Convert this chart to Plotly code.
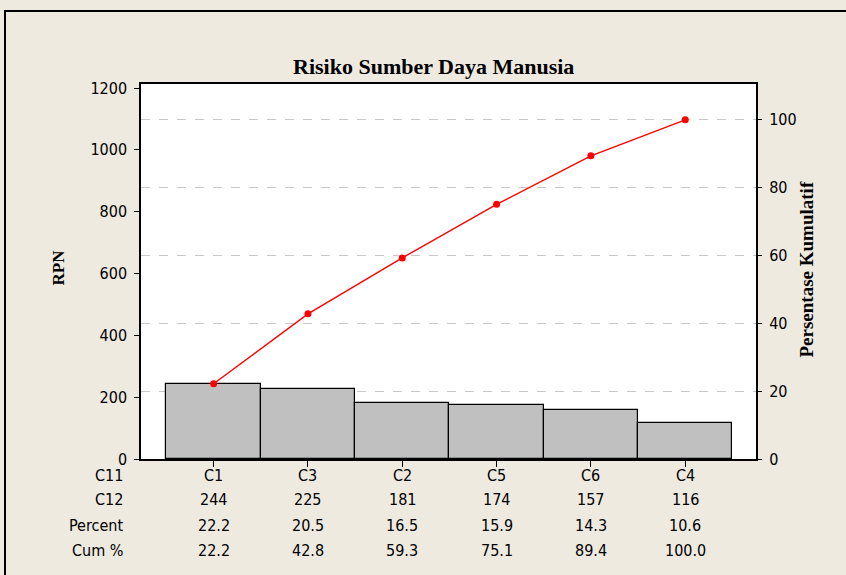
import plotly.graph_objects as go

categories = ["C1", "C3", "C2", "C5", "C6", "C4"]
rpn = [244, 225, 181, 174, 157, 116]
percent = [22.2, 20.5, 16.5, 15.9, 14.3, 10.6]
cum_percent = [22.2, 42.8, 59.3, 75.1, 89.4, 100.0]
left_ticks = [0, 200, 400, 600, 800, 1000, 1200]
right_ticks = [0, 20, 40, 60, 80, 100]
row_labels = ["C11", "C12", "Percent", "Cum %"]

W, H = 846, 575
L, R, T, B = 141, 90, 84, 116
PW, PH = W - L - R, H - T - B

YMAX = 1213
total = sum(rpn)
Y2MAX = YMAX / total * 100

def px_x(px):
    return (px - L) / PW

def px_y(py):
    return (H - B - py) / PH

tick_font = dict(family="DejaVu Sans Condensed, Liberation Sans Narrow, DejaVu Sans", size=16, color="black")
serif_bold = "Liberation Serif, Times New Roman, serif"

fig = go.Figure()
fig.add_trace(go.Bar(
    x=categories, y=rpn, width=1.0,
    marker=dict(color="#C0C0C0", line=dict(color="black", width=1.2)),
    yaxis="y", showlegend=False, hoverinfo="skip",
))
fig.add_trace(go.Scatter(
    x=categories, y=cum_percent, yaxis="y2", mode="lines+markers",
    line=dict(color="#FF0000", width=1.4),
    marker=dict(color="#FF0000", size=7),
    showlegend=False,
))

annotations = []
row_y = [475, 499, 525, 550]
rows = [categories, [str(v) for v in rpn], [f"{v:.1f}" for v in percent], [f"{v:.1f}" for v in cum_percent]]
for lab, yy, vals in zip(row_labels, row_y, rows):
    annotations.append(dict(x=px_x(125), y=px_y(yy), xref="paper", yref="paper", text=lab,
                            showarrow=False, xanchor="right", yanchor="middle", font=tick_font))
    for c, v in zip(categories, vals):
        annotations.append(dict(x=c, y=px_y(yy), xref="x", yref="paper", text=v,
                                showarrow=False, xanchor="center", yanchor="middle", font=tick_font))

annotations.append(dict(x=px_x(433), y=px_y(52), xref="paper", yref="paper",
                        text="<b>Risiko Sumber Daya Manusia</b>", showarrow=False,
                        font=dict(family=serif_bold, size=22, color="black")))
annotations.append(dict(x=px_x(46), y=px_y(268), xref="paper", yref="paper",
                        text="<b>RPN</b>", textangle=-90, showarrow=False,
                        font=dict(family=serif_bold, size=17, color="black")))
annotations.append(dict(x=px_x(818), y=px_y(270), xref="paper", yref="paper",
                        text="<b>Persentase Kumulatif</b>", textangle=-90, showarrow=False,
                        font=dict(family=serif_bold, size=19, color="black")))

fig.update_layout(
    width=W, height=H,
    margin=dict(l=L, r=R, t=T, b=B, pad=0),
    paper_bgcolor="#EEEAE0",
    plot_bgcolor="white",
    bargap=0,
    xaxis=dict(
        range=[-0.77, 5.75], showgrid=False, zeroline=False,
        showline=True, linecolor="black", linewidth=1.5, mirror=True,
        ticks="outside", ticklen=6, tickcolor="black", tickwidth=1,
        showticklabels=False,
    ),
    yaxis=dict(
        range=[0, YMAX], tickvals=left_ticks, showgrid=False, zeroline=False,
        showline=True, linecolor="black", linewidth=1.5, mirror=True,
        ticks="outside", ticklen=5, tickcolor="black", tickwidth=1,
        tickfont=tick_font, ticklabelstandoff=4,
    ),
    yaxis2=dict(
        range=[0, Y2MAX], tickvals=right_ticks, overlaying="y", side="right",
        showgrid=True, gridcolor="#C8C8C8", gridwidth=1, griddash="dash",
        zeroline=False, showline=False,
        ticks="outside", ticklen=5, tickcolor="black", tickwidth=1,
        tickfont=tick_font, ticklabelstandoff=4,
    ),
    annotations=annotations,
    shapes=[dict(type="rect", xref="paper", yref="paper",
                 x0=px_x(5), x1=px_x(900), y0=px_y(620), y1=px_y(11),
                 line=dict(color="black", width=2), fillcolor="rgba(0,0,0,0)", layer="above")],
)

fig.write_html("out.html", config={"displayModeBar": False},
               post_script="document.body.style.margin='0';document.body.style.overflow='hidden';")
